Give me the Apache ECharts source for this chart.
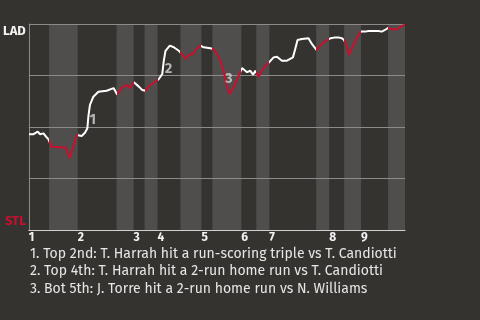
<!DOCTYPE html>
<html><head><meta charset="utf-8">
<script src="https://cdn.jsdelivr.net/npm/echarts@6/dist/echarts.min.js"></script>
<style>html,body{margin:0;padding:0;background:#353330;}#c{width:480px;height:320px;}</style>
</head><body><div id="c"></div>
<script>
// Game progress (plate-appearance scale, 0..90) and win probability (0 = STL, 1 = LAD)
const progress = [0,1.12,2.15,2.70,3.51,4.13,4.70,5.49,8.28,8.90,9.72,10.67,11.46,11.86,12.65,13.44,14.01,14.25,14.63,15.45,16.64,18.62,20.29,21.13,22.32,23.56,24.18,25.14,26.33,27.14,27.93,29.12,30.32,31.11,31.92,32.30,32.70,33.73,34.69,35.88,36.45,37.48,38.27,39.32,40.10,41.06,41.85,43.45,44.16,45.05,45.83,46.62,47.27,48.05,49.01,50.20,51.01,52.21,53.00,53.64,54.19,54.98,56.03,57.36,58.56,59.37,60.56,61.76,63.19,63.74,64.29,65.34,66.91,67.72,68.82,70.11,71.31,72.26,73.29,74.07,74.89,75.43,76.08,76.63,77.03,77.66,78.47,79.42,80.45,81.24,82.43,83.62,84.43,85.22,86.01,86.82,87.20,88.02,88.97,89.76,90];
const winProb = [0.465,0.465,0.477,0.465,0.469,0.453,0.440,0.404,0.400,0.400,0.348,0.404,0.461,0.469,0.456,0.472,0.494,0.550,0.607,0.647,0.671,0.676,0.689,0.658,0.692,0.704,0.689,0.717,0.696,0.680,0.676,0.704,0.720,0.733,0.757,0.822,0.870,0.895,0.887,0.870,0.858,0.830,0.851,0.854,0.879,0.895,0.887,0.882,0.879,0.854,0.822,0.773,0.709,0.660,0.693,0.749,0.786,0.766,0.773,0.754,0.773,0.744,0.782,0.811,0.838,0.841,0.822,0.822,0.838,0.879,0.922,0.927,0.931,0.903,0.874,0.903,0.922,0.931,0.935,0.935,0.931,0.922,0.890,0.850,0.854,0.898,0.931,0.963,0.963,0.966,0.966,0.966,0.963,0.971,0.982,0.974,0.967,0.974,0.987,0.995,1.0];
// Shaded half-innings [start, end]
const bandStart = [4.85,21.0,27.69,36.28,43.92,54.43,68.75,75.44,85.94];
const bandEnd   = [11.70,25.07,30.79,41.30,50.85,57.53,71.86,79.49,90];
// Inning tick labels
const inningStart = [0,11.70,25.07,30.79,41.30,50.85,57.53,71.86,79.49];
const inningLabels = ['1','2','3','4','5','6','7','8','9'];
// Event annotations
const noteX = [15.28,33.42,47.86];
const noteY = [0.532,0.779,0.733];
const noteLabels = ['1','2','3'];
const notes = [
  '1. Top 2nd: T. Harrah hit a run-scoring triple vs T. Candiotti',
  '2. Top 4th: T. Harrah hit a 2-run home run vs T. Candiotti',
  '3. Bot 5th: J. Torre hit a 2-run home run vs N. Williams'
];

const RED = '#c8102e', WHITE = '#ffffff', BAND = '#4f4e4c';
const FONT = "'Fira Sans','Open Sans',sans-serif";

const lineData = progress.map((x,i)=>[x, winProb[i]]);
const bandData = bandStart.map((s,i)=>[s, bandEnd[i]]);
const noteData = noteX.map((x,i)=>[x, noteY[i], noteLabels[i]]);

// colour pieces along x: red inside bands, white outside
const pieces = [];
let prev = 0;
bandStart.forEach((s,i)=>{
  if (s > prev) pieces.push({gte: prev, lt: s, color: WHITE});
  pieces.push({gte: s, lte: bandEnd[i], color: RED});
  prev = bandEnd[i];
});

const chart = echarts.init(document.getElementById('c'), null, {renderer:'canvas'});
chart.setOption({
  backgroundColor: '#353330',
  animation: false,
  textStyle: {fontFamily: FONT},
  grid: {left: 28, right: 75, top: 24, bottom: 90},
  xAxis: {
    type: 'value', min: 0, max: 90, z: 3,
    splitLine: {show: false},
    axisTick: {show: false},
    axisLine: {show: true, lineStyle: {color: '#d0d0d0', width: 1}},
    axisLabel: {
      customValues: inningStart,
      color: '#f2f2f2', fontWeight: 'bold', fontSize: 12, fontFamily: FONT,
      align: 'left', margin: 2,
      formatter: v => { const i = inningStart.findIndex(s => Math.abs(s - v) < 1e-6); return i >= 0 ? inningLabels[i] : ''; }
    }
  },
  yAxis: {
    type: 'value', min: 0, max: 1, interval: 0.25, z: 3,
    axisLine: {show: true, lineStyle: {color: '#8c8b89'}},
    axisTick: {show: false},
    splitLine: {show: true, lineStyle: {color: '#8c8b89', width: 1}},
    axisLabel: {
      margin: 3, fontFamily: FONT,
      formatter: v => v === 1 ? '{lad|LAD}' : (v === 0 ? '{stl|STL}' : ''),
      rich: {
        lad: {color: '#f2f2f2', fontWeight: 'bold', fontSize: 13, fontFamily: FONT, padding: [14,0,0,0]},
        stl: {color: RED, fontWeight: 'bold', fontSize: 13, fontFamily: FONT, padding: [0,0,18,0]}
      }
    }
  },
  visualMap: {
    show: false, type: 'piecewise', dimension: 0, seriesIndex: 1,
    pieces: pieces
  },
  series: [
    {
      type: 'custom', z: 1, silent: true,
      data: bandData,
      encode: {x: [0,1]},
      renderItem: (params, api) => {
        const a = api.coord([api.value(0), 1]);
        const b = api.coord([api.value(1), 0]);
        return {type: 'rect', shape: {x: a[0], y: a[1], width: b[0]-a[0], height: b[1]-a[1]}, style: {fill: BAND}};
      }
    },
    {
      type: 'line', z: 5, data: lineData, showSymbol: false, smooth: false,
      lineStyle: {width: 2}
    },
    {
      type: 'scatter', z: 6, data: noteData, symbolSize: 1, silent: true,
      itemStyle: {color: 'rgba(0,0,0,0)'},
      label: {show: true, position: 'inside', formatter: p => p.value[2],
        color: '#d6d6d6', fontWeight: 'bold', fontSize: 14, fontFamily: FONT}
    }
  ],
  graphic: [{
    type: 'text', left: 30, top: 245, z: 10,
    style: {text: notes.join('\n'), fill: '#e6e6e6', font: "14px " + FONT, lineHeight: 17.5}
  }]
});
</script></body></html>
